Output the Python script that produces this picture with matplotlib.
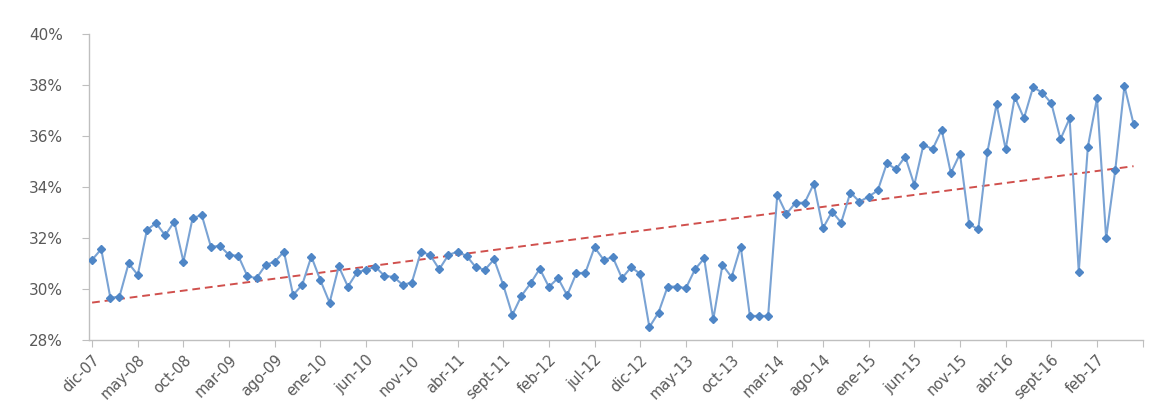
import numpy as np
import matplotlib.pyplot as plt
from matplotlib.ticker import FuncFormatter

plt.rcParams['font.family'] = ['DejaVu Sans']

# monthly series, dic-07 .. jun-17 (percent)
values = [
    31.14, 31.56, 29.65, 29.70, 31.00, 30.55, 32.31, 32.58, 32.10, 32.64,
    31.07, 32.77, 32.90, 31.66, 31.68, 31.33, 31.30, 30.50, 30.42, 30.94,
    31.07, 31.46, 29.76, 30.16, 31.27, 30.33, 29.46, 30.88, 30.09, 30.65,
    30.75, 30.87, 30.51, 30.47, 30.16, 30.25, 31.46, 31.33, 30.77, 31.33,
    31.46, 31.29, 30.85, 30.75, 31.16, 30.16, 28.98, 29.73, 30.22, 30.79,
    30.08, 30.42, 29.75, 30.61, 30.64, 31.63, 31.14, 31.24, 30.42, 30.85,
    30.59, 28.50, 29.07, 30.09, 30.09, 30.03, 30.77, 31.20, 28.81, 30.94,
    30.46, 31.66, 28.94, 28.94, 28.94, 33.69, 32.94, 33.38, 33.38, 34.12,
    32.38, 33.03, 32.60, 33.78, 33.42, 33.62, 33.86, 34.93, 34.69, 35.19,
    34.08, 35.65, 35.48, 36.24, 34.54, 35.30, 32.55, 32.33, 35.36, 37.24,
    35.48, 37.53, 36.69, 37.91, 37.70, 37.28, 35.87, 36.69, 30.68, 35.58,
    37.48, 31.99, 34.67, 37.96, 36.47,
]
tick_labels = ['dic-07', 'may-08', 'oct-08', 'mar-09', 'ago-09', 'ene-10',
               'jun-10', 'nov-10', 'abr-11', 'sept-11', 'feb-12', 'jul-12',
               'dic-12', 'may-13', 'oct-13', 'mar-14', 'ago-14', 'ene-15',
               'jun-15', 'nov-15', 'abr-16', 'sept-16', 'feb-17']

x = np.arange(len(values))
y = np.array(values)

# linear trend line (Excel-style linear trendline)
slope, intercept = np.polyfit(x, y, 1)
trend = slope * x + intercept

fig = plt.figure(figsize=(11.72, 4.09), dpi=100, facecolor='white')
ax = fig.add_axes([0.076, 0.169, 0.899, 0.748])

ax.plot(x, y, color='#7aa3d4', lw=1.5, marker='D', markersize=4.5,
        markerfacecolor='#4f86c6', markeredgecolor='#4f86c6', zorder=3)
ax.plot(x, trend, color='#d0504d', lw=1.4, ls=(0, (4, 2.5)), zorder=2)

ax.set_ylim(28, 40)
ax.set_yticks(np.arange(28, 41, 2))
ax.yaxis.set_major_formatter(FuncFormatter(lambda v, p: f'{v:.0f}%'))
ax.set_xlim(-0.33, 115)
ax.set_xticks(np.arange(0, 116, 5))
ax.set_xticklabels(tick_labels + [''], rotation=45, ha='right',
                   rotation_mode='anchor')

for s in ['top', 'right']:
    ax.spines[s].set_visible(False)
for s in ['left', 'bottom']:
    ax.spines[s].set_color('#bfbfbf')
    ax.spines[s].set_linewidth(1.0)
ax.tick_params(axis='both', colors='#bfbfbf', length=5, labelcolor='#595959')
ax.tick_params(axis='y', pad=14, labelsize=11)
ax.tick_params(axis='x', pad=4, labelsize=10.5)

fig.savefig('out.png', dpi=100, facecolor='white')
